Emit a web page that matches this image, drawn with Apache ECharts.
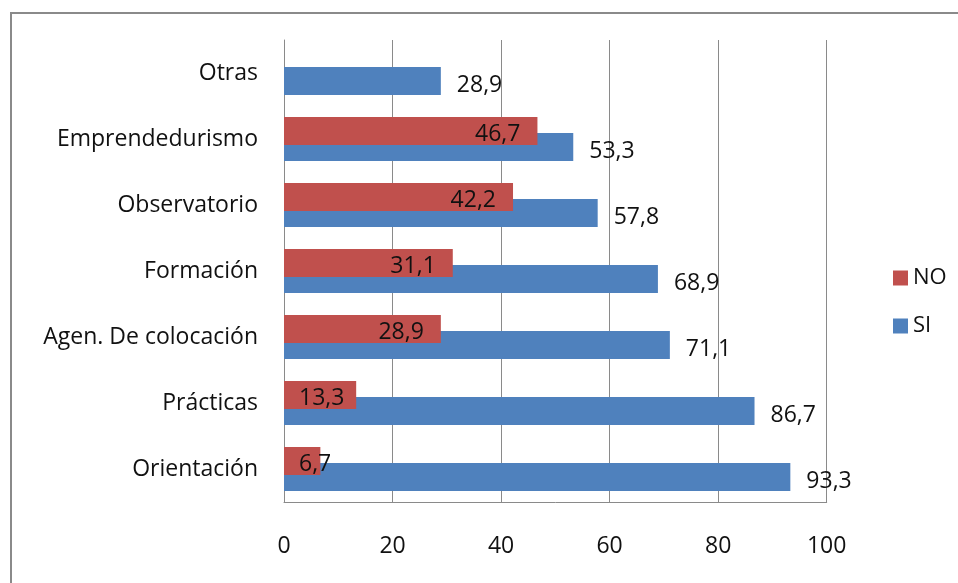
<!DOCTYPE html>
<html>
<head>
<meta charset="utf-8">
<script src="https://cdn.jsdelivr.net/npm/echarts@6/dist/echarts.min.js"></script>
<style>
html,body{margin:0;padding:0;background:#fff;}
#c{width:958px;height:583px;}
</style>
</head>
<body>
<div id="c"></div>
<script>
const categories = ['Orientación', 'Prácticas', 'Agen. De colocación', 'Formación', 'Observatorio', 'Emprendedurismo', 'Otras'];
const noValues = [6.7, 13.3, 28.9, 31.1, 42.2, 46.7, null];
const siValues = [93.3, 86.7, 71.1, 68.9, 57.8, 53.3, 28.9];
const xTicks = [0, 20, 40, 60, 80, 100];

const FONT = '"Open Sans", sans-serif';
const FS = 23;
const fmt = v => String(v.value).replace('.', ',');

const chart = echarts.init(document.getElementById('c'), null, {renderer: 'canvas'});

const noData = noValues.map(v => {
  if (v === null) return {value: null};
  const small = v < 20;
  return {
    value: v,
    label: small
      ? {position: 'insideLeft', distance: 15}
      : {position: 'insideRight', distance: 17}
  };
});

chart.setOption({
  animation: false,
  backgroundColor: '#fff',
  textStyle: {fontFamily: FONT},
  graphic: [{
    type: 'rect',
    shape: {x: 11, y: 13, width: 1000, height: 700},
    style: {fill: 'none', stroke: '#8a8a8a', lineWidth: 2},
    silent: true,
    z: -10
  }],
  legend: {
    orient: 'vertical',
    left: 888,
    top: 262,
    itemWidth: 15,
    itemHeight: 15,
    itemGap: 26,
    icon: 'rect',
    data: ['NO', 'SI'],
    textStyle: {fontFamily: FONT, fontSize: 22, color: '#111', padding: [2, 0, 0, 0]}
  },
  grid: {left: 284, top: 40, right: 131.3, bottom: 81, containLabel: false},
  xAxis: {
    type: 'value',
    min: xTicks[0],
    max: xTicks[xTicks.length - 1],
    interval: 20,
    axisLine: {show: true, lineStyle: {color: '#8a8a8a', width: 1}},
    axisTick: {show: false},
    splitLine: {show: true, lineStyle: {color: '#8a8a8a', width: 1}},
    axisLabel: {
      margin: 33,
      fontFamily: FONT, fontSize: FS, color: '#111',
      formatter: v => xTicks.includes(v) ? String(v) : ''
    }
  },
  yAxis: {
    type: 'category',
    data: categories,
    axisLine: {show: true, lineStyle: {color: '#8a8a8a', width: 1}},
    axisTick: {show: false},
    splitLine: {show: false},
    axisLabel: {margin: 26, fontFamily: FONT, fontSize: FS, color: '#111', padding: [5, 0, 0, 0]}
  },
  series: [
    {
      name: 'NO',
      type: 'bar',
      data: noData,
      barWidth: 28,
      barGap: '-43%',
      barCategoryGap: '33%',
      z: 3,
      itemStyle: {color: '#C0504D'},
      label: {
        show: true,
        fontFamily: FONT, fontSize: FS, color: '#111',
        offset: [0, 3],
        formatter: fmt
      }
    },
    {
      name: 'SI',
      type: 'bar',
      data: siValues,
      barWidth: 28,
      barGap: '-43%',
      barCategoryGap: '33%',
      z: 2,
      itemStyle: {color: '#4F81BD'},
      label: {
        show: true,
        position: 'right',
        distance: 16,
        offset: [0, 4],
        fontFamily: FONT, fontSize: FS, color: '#111',
        formatter: fmt
      }
    }
  ]
});
</script>
</body>
</html>
